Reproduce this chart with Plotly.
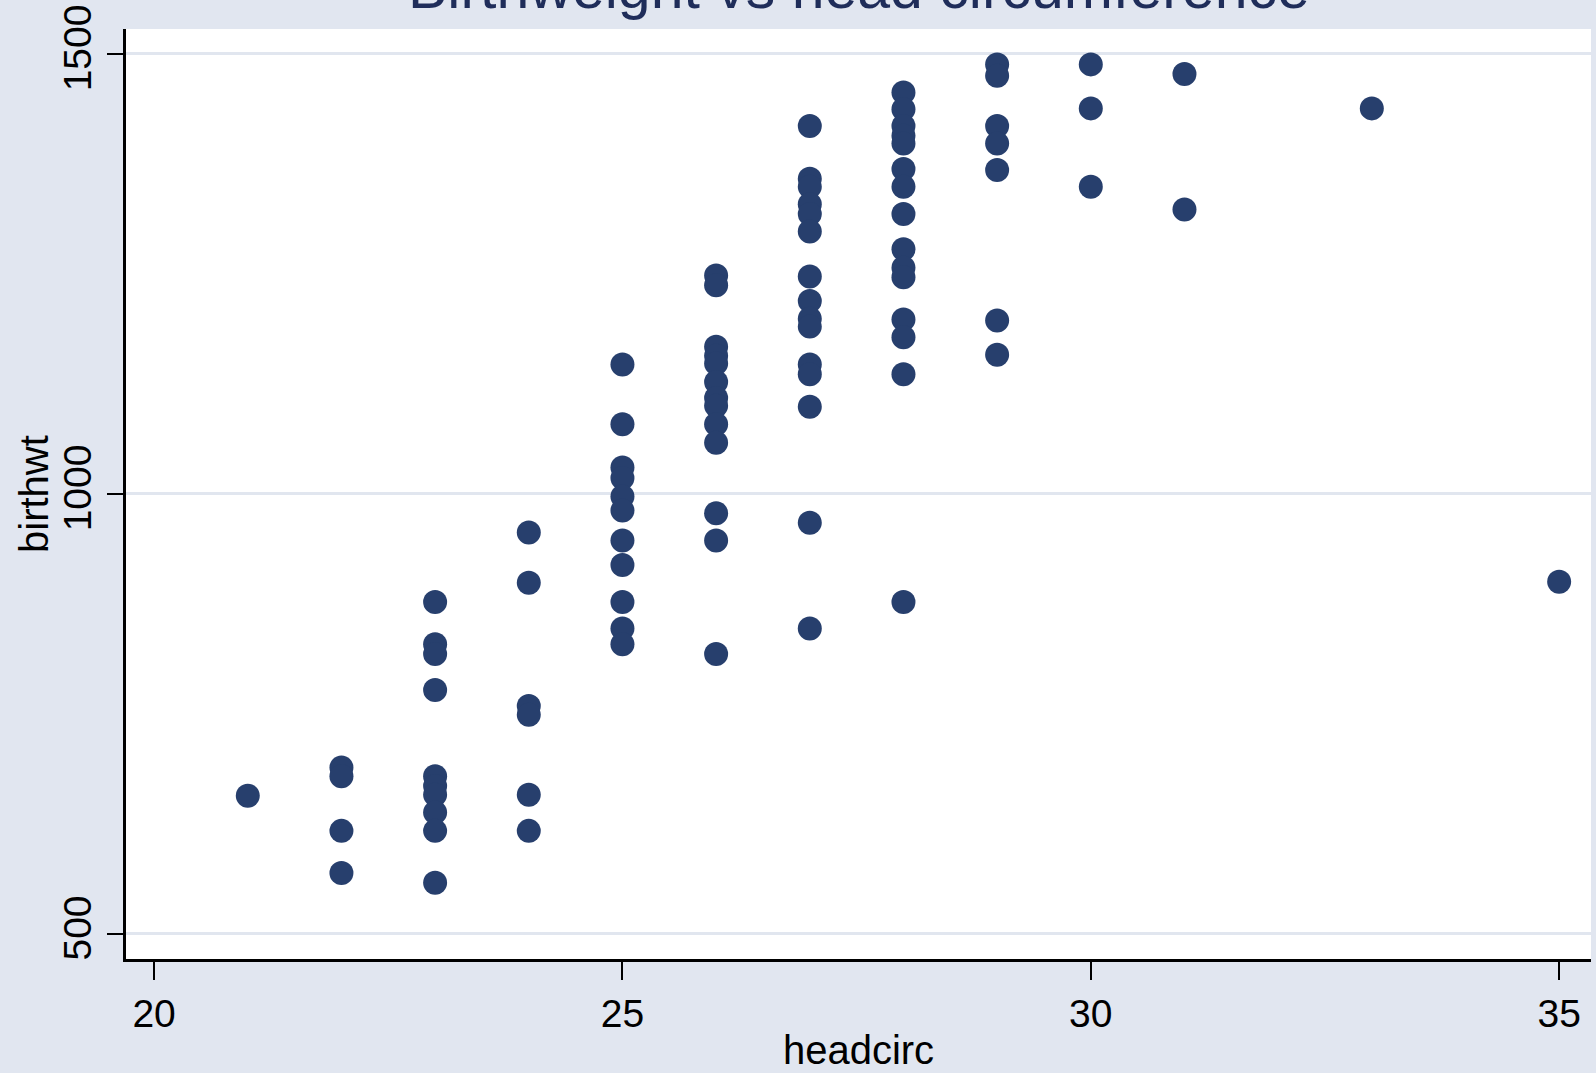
import plotly.graph_objects as go

# Data (headcirc in cm, birthwt in g)
hc_21 = [657]
hc_22 = [689, 679, 617, 569]
hc_23 = [877, 829, 818, 777, 679, 668, 658, 638, 617, 558]
hc_24 = [956, 899, 759, 749, 658, 617]
hc_25 = [1147, 1079, 1030, 1018, 997, 981, 947, 919, 877, 847, 829]
hc_26 = [1248, 1237, 1167, 1157, 1148, 1127, 1109, 1100, 1079, 1058, 978, 947, 818]
hc_27 = [1418, 1358, 1349, 1329, 1318, 1298, 1247, 1219, 1199, 1190, 1147, 1136, 1099, 967, 847]
hc_28 = [1456, 1437, 1418, 1407, 1398, 1369, 1349, 1318, 1278, 1257, 1246, 1198, 1178, 1136, 877]
hc_29 = [1488, 1475, 1418, 1398, 1368, 1197, 1158]
hc_30 = [1488, 1438, 1349]
hc_31 = [1477, 1323]
hc_33 = [1438]
hc_35 = [900]

groups = {21: hc_21, 22: hc_22, 23: hc_23, 24: hc_24, 25: hc_25, 26: hc_26,
          27: hc_27, 28: hc_28, 29: hc_29, 30: hc_30, 31: hc_31, 33: hc_33, 35: hc_35}

headcirc = []
birthwt = []
for k, vals in groups.items():
    headcirc += [k] * len(vals)
    birthwt += vals

x_ticks = [20, 25, 30, 35]
y_ticks = [500, 1000, 1500]

title_text = "Birthweight vs head circumference"
x_title = "headcirc"
y_title = "birthwt"

FONT = "Liberation Sans, Arial, Helvetica, sans-serif"
NAVY = "#273f6d"
BG = "#e1e6f0"

fig = go.Figure()
fig.add_trace(go.Scatter(
    x=headcirc, y=birthwt, mode="markers",
    marker=dict(size=24, color=NAVY, line=dict(width=0)),
    hoverinfo="x+y", showlegend=False,
))

fig.update_layout(
    width=1596, height=1073,
    margin=dict(l=126, r=5, t=26, b=114, pad=0),
    paper_bgcolor=BG, plot_bgcolor="white",
    font=dict(family=FONT, size=39, color="black"),
    showlegend=False,
)

fig.update_xaxes(
    range=[19.70, 35.34], tickvals=x_ticks, ticktext=[str(v) for v in x_ticks],
    ticks="outside", ticklen=18, tickwidth=2, tickcolor="black",
    showline=True, linecolor="black", linewidth=3, mirror=False,
    showgrid=False, zeroline=False,
    tickfont=dict(size=39, family=FONT, color="black"),
    title=dict(text=x_title, font=dict(size=40, family=FONT, color="black"), standoff=3),
)
fig.update_yaxes(
    range=[471.4, 1528.2], tickvals=y_ticks, ticktext=[str(v) for v in y_ticks],
    tickangle=-90,
    ticks="outside", ticklen=16, tickwidth=2, tickcolor="black",
    showline=True, linecolor="black", linewidth=3, mirror=False,
    showgrid=True, gridcolor="#e1e6ef", gridwidth=2.5, zeroline=False,
    tickfont=dict(size=39, family=FONT, color="black"),
    title=dict(text=""),
)

# y-axis title, placed as rotated text left of the tick labels
fig.add_annotation(
    text=y_title, xref="paper", yref="paper", x=0, y=0.5,
    xanchor="center", yanchor="middle", xshift=-92, textangle=-90,
    showarrow=False, font=dict(size=40, family=FONT, color="black"),
)

fig.add_annotation(
    text=title_text, xref="paper", yref="paper", x=0.5, y=1,
    xanchor="center", yanchor="bottom", showarrow=False,
    font=dict(size=59, family=FONT, color="#1f2d5a"), yshift=6,
)

fig.write_html(
    "out.html",
    config={"displayModeBar": False},
    post_script="document.body.style.margin='0';document.body.style.overflow='hidden';",
)
